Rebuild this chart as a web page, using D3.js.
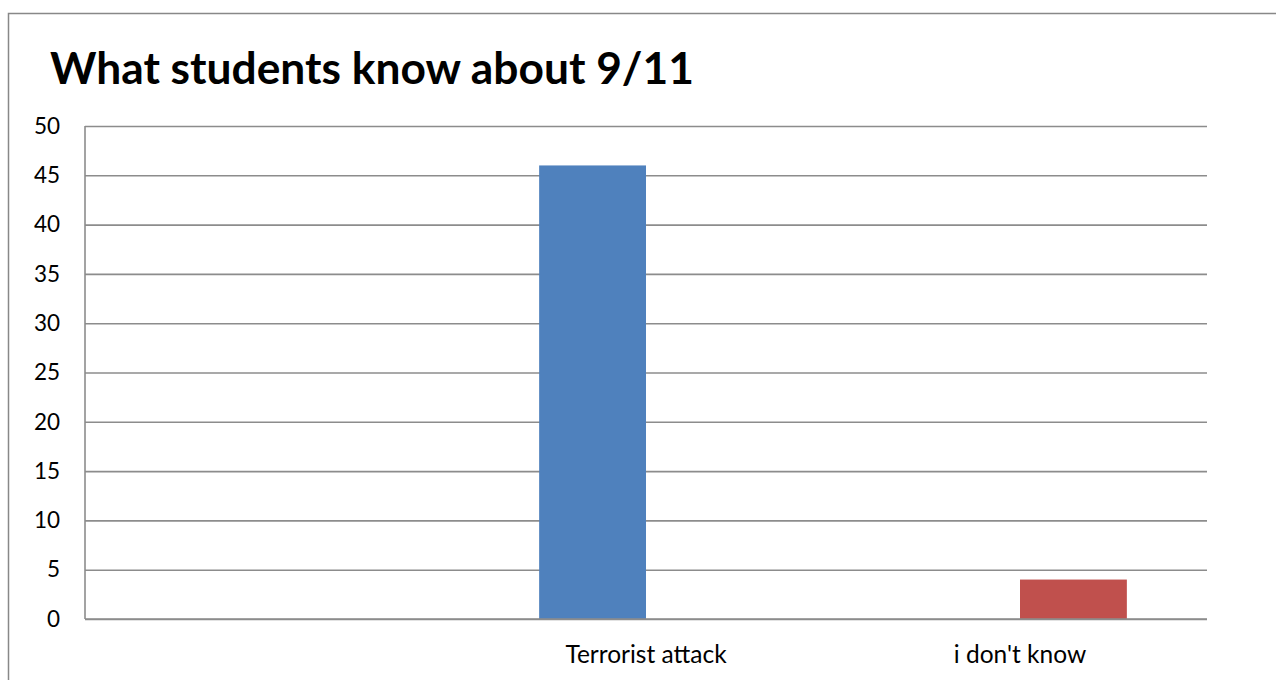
<!DOCTYPE html>
<html><head><meta charset="utf-8">
<script src="https://cdn.jsdelivr.net/npm/d3@7"></script>
<style>html,body{margin:0;padding:0;background:#fff;}svg{display:block;}</style>
</head><body>
<svg id="chart" width="1276" height="680"></svg>
<script>
const title = "What students know about 9/11";
const categories = ["", "Terrorist attack", "i don't know"];
const seriesNames = ["Terrorist attack", "i don't know"];
const seriesA = [0, 46, 0];
const seriesB = [0, 0, 4];
const yTicks = [0, 5, 10, 15, 20, 25, 30, 35, 40, 45, 50];
const colors = ["#4f81bd", "#c0504d"];

const svg = d3.select("#chart");
const font = "Lato, 'Open Sans', sans-serif";
const W = 1276, H = 680;
const m = {left: 85, right: 1207, top: 126, bottom: 619};

// outer border
svg.append("rect").attr("x", 8.5).attr("y", 13.5).attr("width", W).attr("height", H)
  .attr("fill", "none").attr("stroke", "#888").attr("stroke-width", 1.5);

const x = d3.scaleBand().domain(categories.map((c,i)=>i)).range([m.left, m.right]).padding(0);
const x1 = d3.scaleBand().domain([0,1]).range([0, x.bandwidth()*2/3.5]).padding(0);
const y = d3.scaleLinear().domain([0, 50]).range([m.bottom, m.top]);

// gridlines
const yAxis = d3.axisLeft(y).tickValues(yTicks).tickSize(-(m.right - m.left)).tickPadding(25).tickFormat(d3.format("d"));
const gy = svg.append("g").attr("transform", `translate(${m.left},0)`).call(yAxis);
gy.select(".domain").remove();
gy.selectAll(".tick line").attr("stroke", "#8c8c8c").attr("stroke-width", 1.6);
gy.selectAll(".tick text").attr("font-family", font).attr("font-size", 22.5).attr("fill", "#000");

// left axis line
svg.append("line").attr("x1", m.left).attr("x2", m.left).attr("y1", m.top).attr("y2", m.bottom)
  .attr("stroke", "#8c8c8c").attr("stroke-width", 1.6);

// bars
const series = [seriesA, seriesB];
series.forEach((vals, s) => {
  svg.append("g").selectAll("rect").data(vals).join("rect")
    .attr("x", (d,i) => x(i) + x.bandwidth()/2 - x1.range()[1]/2 + x1(s))
    .attr("width", x1.bandwidth())
    .attr("y", d => y(d))
    .attr("height", d => y(0) - y(d))
    .attr("fill", colors[s]);
});

// x axis line
svg.append("line").attr("x1", m.left).attr("x2", m.right).attr("y1", y(0)).attr("y2", y(0))
  .attr("stroke", "#8c8c8c").attr("stroke-width", 1.6);

// category labels
const xAxis = d3.axisBottom(x).tickSize(0).tickPadding(0).tickFormat(i => categories[i]);
const gx = svg.append("g").attr("transform", `translate(0,${m.bottom})`).call(xAxis);
gx.select(".domain").remove();
gx.selectAll(".tick text").attr("font-family", font).attr("font-size", 24.5).attr("fill", "#000")
  .attr("dy", null).attr("y", 43.5);

// title
svg.append("text").attr("x", 50).attr("y", 84).attr("font-family", font)
  .attr("font-weight", "bold").attr("font-size", 44.3).attr("fill", "#000").text(title);
</script>
</body></html>
